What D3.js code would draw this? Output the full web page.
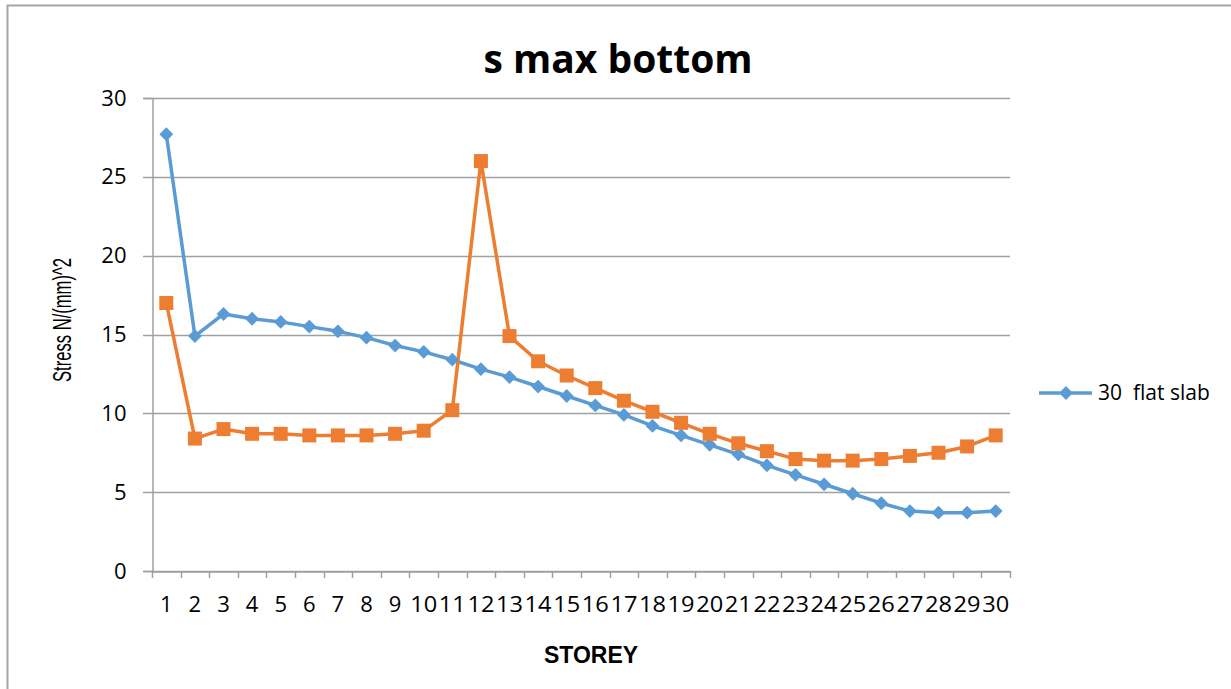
<!DOCTYPE html>
<html><head><meta charset="utf-8">
<script src="https://cdn.jsdelivr.net/npm/d3@7"></script>
<style>html,body{margin:0;padding:0;background:#fff;}svg{display:block;}</style>
</head><body>
<script>
const storeys = d3.range(1, 31).map(String);
const flatSlab = [27.7,14.9,16.3,16.0,15.8,15.5,15.2,14.8,14.3,13.9,13.4,12.8,12.3,11.7,11.1,10.5,9.9,9.2,8.6,8.0,7.4,6.7,6.1,5.5,4.9,4.3,3.8,3.7,3.7,3.8];
const series2 = [17.0,8.4,9.0,8.7,8.7,8.6,8.6,8.6,8.7,8.9,10.2,26.0,14.9,13.3,12.4,11.6,10.8,10.1,9.4,8.7,8.1,7.6,7.1,7.0,7.0,7.1,7.3,7.5,7.9,8.6];
const yTicks = [0,5,10,15,20,25,30];
const title = "s max bottom";
const xTitle = "STOREY";
const yTitle = "Stress N/(mm)^2";
const legendLabel = "30  flat slab";

const W = 1231, H = 689;
const svg = d3.select("body").append("svg").attr("width", W).attr("height", H);

// outer frame
svg.append("path").attr("d", `M7.5,${H} V5.5 H${W}`).attr("fill","none").attr("stroke","#a6a6a6").attr("stroke-width",2);

const x = d3.scaleBand().domain(storeys).range([152, 1010]);
const y = d3.scaleLinear().domain([0,30]).range([571, 98]);
const font = "'Open Sans', sans-serif";

// gridlines
svg.append("g").selectAll("line").data(yTicks).join("line")
  .attr("x1", 143).attr("x2", 1010)
  .attr("y1", d => Math.round(y(d))+0.5).attr("y2", d => Math.round(y(d))+0.5)
  .attr("stroke", "#a0a0a0").attr("stroke-width", 1.5);

// y axis
const ya = svg.append("g").attr("transform","translate(152.5,0)")
  .call(d3.axisLeft(y).tickValues(yTicks).tickSize(9).tickPadding(17));
ya.select(".domain").attr("stroke","#a0a0a0").attr("stroke-width",1.5);
ya.selectAll(".tick line").remove();
ya.selectAll("text").attr("font-family", font).attr("font-size", 22).attr("fill","#000");

// x axis
const xa = svg.append("g").attr("transform","translate(0,571.5)")
  .call(d3.axisBottom(x).tickSize(0).tickPadding(25));
xa.select(".domain").attr("stroke","#a0a0a0").attr("stroke-width",1.5);
xa.selectAll("text").attr("font-family", font).attr("font-size", 22).attr("fill","#000")
  .attr("textLength", d => d.length > 1 ? 27 : null).attr("lengthAdjust","spacingAndGlyphs");
// tick marks at band boundaries
const bounds = storeys.map(s => x(s)).concat([x.range()[1]]);
svg.append("g").selectAll("line").data(bounds).join("line")
  .attr("x1", d => Math.round(d)+0.5).attr("x2", d => Math.round(d)+0.5)
  .attr("y1", 571).attr("y2", 578).attr("stroke","#a0a0a0").attr("stroke-width",1.5);

const cx = d => x(d) + x.bandwidth()/2;
const line = d3.line().x((d,i) => cx(storeys[i])).y(d => y(d));

const blue = "#5b9bd5", orange = "#ed7d31";
svg.append("path").datum(flatSlab).attr("d", line).attr("fill","none").attr("stroke", blue).attr("stroke-width",3.5).attr("stroke-linejoin","round");
svg.append("path").datum(series2).attr("d", line).attr("fill","none").attr("stroke", orange).attr("stroke-width",3.5).attr("stroke-linejoin","round");

svg.append("g").selectAll("path").data(flatSlab).join("path")
  .attr("d", d3.symbol().type(d3.symbolSquare).size(95))
  .attr("transform", (d,i) => `translate(${cx(storeys[i])},${y(d)}) rotate(45)`)
  .attr("fill", blue);
svg.append("g").selectAll("rect").data(series2).join("rect")
  .attr("x", (d,i) => cx(storeys[i]) - 7).attr("y", d => y(d) - 7)
  .attr("width", 14).attr("height", 14).attr("fill", orange);

// title
svg.append("text").attr("x", 618).attr("y", 73).attr("text-anchor","middle")
  .attr("font-family", font).attr("font-weight","bold").attr("font-size", 39).attr("fill","#000").text(title);

// x title
svg.append("text").attr("x", 591).attr("y", 663).attr("text-anchor","middle")
  .attr("font-family", "'Liberation Sans', Arial, sans-serif").attr("font-weight","bold").attr("font-size", 23).attr("fill","#000").text(xTitle);

// y title
svg.append("text").attr("transform","translate(71,320) rotate(-90)").attr("text-anchor","middle")
  .attr("font-family", "'Liberation Sans', Arial, sans-serif").attr("font-size", 25).attr("fill","#000")
  .attr("textLength", 124).attr("lengthAdjust","spacingAndGlyphs").text(yTitle);

// legend
const lg = svg.append("g");
lg.append("line").attr("x1",1039).attr("x2",1092).attr("y1",393).attr("y2",393).attr("stroke",blue).attr("stroke-width",3.5);
lg.append("path").attr("d", d3.symbol().type(d3.symbolSquare).size(95)).attr("transform","translate(1066,393) rotate(45)").attr("fill",blue);
lg.append("text").attr("x",1098).attr("y",400).attr("font-family",font).attr("font-size",21).attr("fill","#000")
  .attr("xml:space","preserve").style("white-space","pre").text(legendLabel);
</script>
</body></html>
